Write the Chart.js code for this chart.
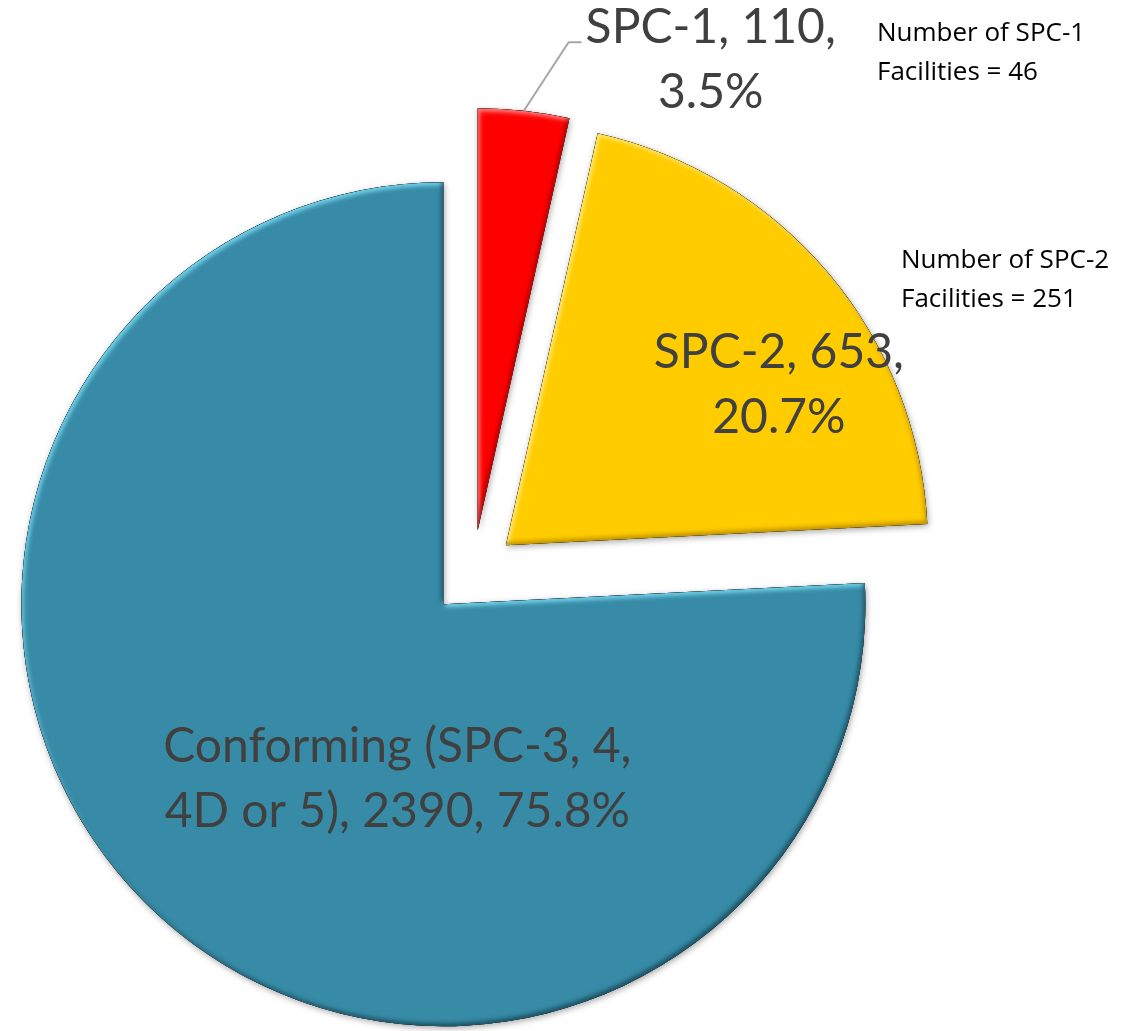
<!DOCTYPE html>
<html lang="en">
<head>
<meta charset="UTF-8" />
<title>SPC Rating of Buildings</title>
<script src="https://cdn.jsdelivr.net/npm/chart.js"></script>
<style>
  body {
    margin: 0;
    background: #ffffff;
  }
  #chart-container {
    width: 1148px;
    height: 1031px;
  }
</style>
</head>
<body>

<div id="chart-container">
  <canvas id="spcChart" width="1148" height="1031"></canvas>
</div>

<script>
  // data
  const categories = ['SPC-1', 'SPC-2', 'Conforming (SPC-3, 4, 4D or 5)'];
  const buildingCounts = [110, 653, 2390];
  const noteCategories = ['SPC-1', 'SPC-2'];
  const facilityCounts = [46, 251];

  // styling
  const sliceColors = ['#ff0000', '#ffcc00', '#378ba6'];
  const lightEdges = ['rgba(255,150,150,0.9)', 'rgba(255,240,140,0.9)', 'rgba(120,215,240,0.95)'];
  const darkEdges = ['rgba(110,0,0,0.55)', 'rgba(140,100,0,0.55)', 'rgba(10,45,60,0.6)'];

  const total = buildingCounts.reduce((a, b) => a + b, 0);
  const FONT = 'Lato, "Open Sans", sans-serif';

  // every slice is pulled out from the centre by the same distance (px)
  const explode = 43;

  // label placement relative to each pulled-out slice centre: [dx, first baseline dy, wrap width]
  const labelPlace = [
    [233, -487, 270],
    [273, -177, 270],
    [-46, 158, 500]
  ];

  function wrapText(ctx, text, maxWidth) {
    const words = text.split(' ');
    const lines = [];
    let line = '';
    words.forEach(w => {
      const test = line ? line + ' ' + w : w;
      if (line && ctx.measureText(test).width > maxWidth) {
        lines.push(line);
        line = w;
      } else {
        line = test;
      }
    });
    if (line) lines.push(line);
    return lines;
  }

  function slicePath(ctx, a) {
    ctx.moveTo(a.x, a.y);
    ctx.arc(a.x, a.y, a.outerRadius, a.startAngle, a.endAngle);
    ctx.closePath();
  }

  // push each arc out along its bisector without growing its radius
  const explodePlugin = {
    id: 'explodeSlices',
    afterDatasetUpdate(chart, args) {
      args.meta.data.forEach(arc => {
        const mid = (arc.startAngle + arc.endAngle) / 2;
        arc.x += Math.cos(mid) * explode;
        arc.y += Math.sin(mid) * explode;
      });
    }
  };

  const shadowPlugin = {
    id: 'sliceShadow',
    beforeDatasetsDraw(chart) {
      const ctx = chart.ctx;
      ctx.save();
      ctx.shadowColor = 'rgba(0, 0, 0, 0.35)';
      ctx.shadowBlur = 6;
      ctx.shadowOffsetX = 1;
      ctx.shadowOffsetY = 2;
    },
    afterDatasetsDraw(chart) {
      chart.ctx.restore();
    }
  };

  // soft bevel: light on edges facing up-left, dark on edges facing down-right
  const bevelPlugin = {
    id: 'sliceBevel',
    afterDatasetsDraw(chart) {
      const ctx = chart.ctx;
      chart.getDatasetMeta(0).data.forEach((arc, i) => {
        const a = arc.getProps(['x', 'y', 'startAngle', 'endAngle', 'outerRadius'], true);
        ctx.save();
        ctx.beginPath();
        slicePath(ctx, a);
        ctx.clip();
        [[lightEdges[i], 2, 3], [darkEdges[i], -2, -3]].forEach(([c, ox, oy]) => {
          ctx.beginPath();
          ctx.rect(a.x - 3000, a.y - 3000, 6000, 6000);
          slicePath(ctx, a);
          ctx.shadowColor = c;
          ctx.shadowBlur = 4;
          ctx.shadowOffsetX = ox;
          ctx.shadowOffsetY = oy;
          ctx.fillStyle = '#000000';
          ctx.fill('evenodd');
        });
        ctx.restore();
      });
    }
  };

  const labelPlugin = {
    id: 'sliceLabels',
    afterDraw(chart) {
      const ctx = chart.ctx;
      const meta = chart.getDatasetMeta(0);
      ctx.save();
      meta.data.forEach((arc, i) => {
        const p = arc.getProps(['x', 'y', 'startAngle', 'endAngle', 'outerRadius'], true);
        const mid = (p.startAngle + p.endAngle) / 2;
        const pct = (buildingCounts[i] / total * 100).toFixed(1);
        const text = `${categories[i]}, ${buildingCounts[i]}, ${pct}%`;
        const [dx, dy, wrap] = labelPlace[i];

        ctx.font = `48px ${FONT}`;
        ctx.fillStyle = '#404040';
        ctx.textAlign = 'center';
        ctx.textBaseline = 'alphabetic';
        const lines = wrapText(ctx, text, wrap);
        lines.forEach((ln, k) => {
          ctx.fillText(ln, p.x + dx, p.y + dy + k * 65);
        });

        // leader line for the small slice
        if (i === 0) {
          const ex = p.x + Math.cos(mid) * p.outerRadius;
          const ey = p.y + Math.sin(mid) * p.outerRadius;
          const w = ctx.measureText(lines[0]).width;
          const lx = p.x + dx - w / 2 - 4;
          const ly = p.y + dy - 1;
          ctx.strokeStyle = '#a6a6a6';
          ctx.lineWidth = 2;
          ctx.beginPath();
          ctx.moveTo(ex, ey);
          ctx.lineTo(lx - 13, ly);
          ctx.lineTo(lx, ly);
          ctx.stroke();
        }
      });

      // facility count notes
      ctx.font = '26px "Open Sans", sans-serif';
      ctx.fillStyle = '#000000';
      ctx.textAlign = 'left';
      const notePos = [[877, 41], [901, 268]];
      noteCategories.forEach((c, i) => {
        const [nx, ny] = notePos[i];
        ctx.fillText(`Number of ${c}`, nx, ny);
        ctx.fillText(`Facilities = ${facilityCounts[i]}`, nx, ny + 39);
      });
      ctx.restore();
    }
  };

  const ctx = document.getElementById('spcChart').getContext('2d');

  new Chart(ctx, {
    type: 'pie',
    data: {
      labels: categories,
      datasets: [{
        data: buildingCounts,
        backgroundColor: sliceColors,
        borderWidth: 0,
        hoverOffset: 0,
        clip: false
      }]
    },
    options: {
      responsive: false,
      devicePixelRatio: 1,
      animation: false,
      radius: 422,
      layout: {
        padding: { left: 0, right: 202, top: 115, bottom: 0 }
      },
      plugins: {
        legend: { display: false },
        tooltip: { enabled: false }
      }
    },
    plugins: [explodePlugin, shadowPlugin, bevelPlugin, labelPlugin]
  });
</script>

</body>
</html>
